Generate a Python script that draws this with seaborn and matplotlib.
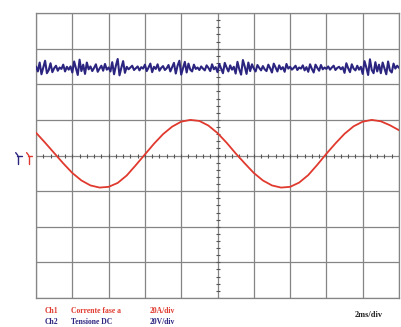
import numpy as np
import pandas as pd
import matplotlib
matplotlib.use("Agg")
import matplotlib.pyplot as plt
import seaborn as sns
from matplotlib.lines import Line2D

# Ch1 - corrente fase a (div), sampled every 0.25 div
ch1_x = [i * 0.25 for i in range(41)]
ch1_y = [0.64, 0.36, 0.07, -0.22, -0.49, -0.70, -0.84, -0.90, -0.88, -0.77,
         -0.56, -0.27, 0.03, 0.33, 0.60, 0.81, 0.95, 1.00, 0.97, 0.84,
         0.63, 0.36, 0.06, -0.22, -0.49, -0.70, -0.84, -0.90, -0.88, -0.76,
         -0.55, -0.26, 0.05, 0.34, 0.61, 0.82, 0.95, 1.00, 0.96, 0.85, 0.71]

# Ch2 - tensione DC (div), sampled every 0.05 div
ch2_y = [
    2.50, 2.36, 2.61, 2.28, 2.47, 2.66, 2.31, 2.40, 2.59, 2.34,
    2.45, 2.52, 2.38, 2.47, 2.43, 2.55, 2.36, 2.49, 2.41, 2.50,
    2.33, 2.64, 2.45, 2.26, 2.69, 2.37, 2.55, 2.29, 2.61, 2.42,
    2.50, 2.37, 2.46, 2.56, 2.35, 2.44, 2.52, 2.38, 2.57, 2.41,
    2.47, 2.36, 2.62, 2.28, 2.52, 2.71, 2.25, 2.46, 2.65, 2.32,
    2.49, 2.42, 2.47, 2.52, 2.40, 2.45, 2.50, 2.39, 2.48, 2.44,
    2.55, 2.37, 2.47, 2.58, 2.34, 2.49, 2.43, 2.56, 2.38, 2.46,
    2.51, 2.40, 2.45, 2.54, 2.36, 2.48, 2.60, 2.30, 2.52, 2.66,
    2.27, 2.45, 2.63, 2.33, 2.58, 2.41, 2.36, 2.55, 2.43, 2.47,
    2.40, 2.50, 2.44, 2.39, 2.53, 2.46, 2.37, 2.56, 2.42, 2.48,
    2.34, 2.57, 2.44, 2.31, 2.60, 2.47, 2.36, 2.53, 2.41, 2.49,
    2.30, 2.63, 2.42, 2.27, 2.68, 2.50, 2.29, 2.61, 2.37, 2.56,
    2.44, 2.36, 2.54, 2.46, 2.39, 2.51, 2.42, 2.37, 2.55, 2.45,
    2.33, 2.58, 2.47, 2.36, 2.53, 2.42, 2.48, 2.35, 2.57, 2.44,
    2.49, 2.41, 2.46, 2.52, 2.40, 2.47, 2.44, 2.53, 2.39, 2.48,
    2.35, 2.56, 2.43, 2.33, 2.55, 2.46, 2.38, 2.54, 2.42, 2.47,
    2.43, 2.50, 2.41, 2.47, 2.52, 2.40, 2.46, 2.49, 2.42, 2.48,
    2.32, 2.59, 2.45, 2.34, 2.56, 2.44, 2.39, 2.52, 2.41, 2.49,
    2.29, 2.65, 2.47, 2.26, 2.70, 2.40, 2.31, 2.62, 2.36, 2.55,
    2.31, 2.61, 2.45, 2.28, 2.64, 2.39, 2.33, 2.58, 2.44, 2.52,
    2.46]
ch2_x = [i * 0.05 for i in range(len(ch2_y))]

red = "#e0392e"
blue = "#2b2580"
grid_col = "#858585"

sns.set_style("white")
plt.rcParams['font.family'] = ['Liberation Serif', 'DejaVu Serif']

fig = plt.figure(figsize=(4.02, 3.27), dpi=100)
ax = fig.add_axes([0.0896, 0.0887, 0.9029, 0.8715])

# grid
for gx in range(11):
    ax.axvline(gx, color=grid_col, lw=0.9, zorder=1)
for gy in range(-4, 5):
    ax.axhline(gy, color=grid_col, lw=0.9, zorder=1)

# minor ticks on centre lines
mt = np.arange(0, 10.01, 0.2)
ax.plot(mt, np.zeros_like(mt), ls="none", marker="|", ms=2.2, mew=0.8, color="#555555", zorder=2)
mt2 = np.arange(-4, 4.01, 0.2)
ax.plot(np.full_like(mt2, 5.0), mt2, ls="none", marker="_", ms=2.2, mew=0.8, color="#555555", zorder=2)

df2 = pd.DataFrame({"t": ch2_x, "v": ch2_y})
df1 = pd.DataFrame({"t": ch1_x, "v": ch1_y})
sns.lineplot(data=df2, x="t", y="v", ax=ax, color=blue, lw=1.5, sort=False, zorder=3)
sns.lineplot(data=df1, x="t", y="v", ax=ax, color=red, lw=1.3, sort=False, zorder=4)

ax.set_xlim(0, 10)
ax.set_ylim(-4, 4)
ax.set_xticks([])
ax.set_yticks([])
ax.set_xlabel("")
ax.set_ylabel("")
for s in ax.spines.values():
    s.set_color(grid_col)
    s.set_linewidth(0.9)

# channel ground markers on the left
for x0, c in [(-0.52, blue), (-0.22, red)]:
    ax.add_line(Line2D([x0, x0 + 0.12], [0, 0], color=c, lw=1.0, clip_on=False))
    ax.add_line(Line2D([x0 + 0.02, x0 + 0.02], [0, -0.25], color=c, lw=1.0, clip_on=False))
    ax.add_line(Line2D([x0 + 0.02, x0 - 0.04], [0, 0.08], color=c, lw=1.0, clip_on=False))

fs = 5.5
fig.text(0.112, 0.049, "Ch1", color=red, fontsize=fs, fontweight="bold", va="center")
fig.text(0.177, 0.049, "Corrente fase a", color=red, fontsize=fs, fontweight="bold", va="center")
fig.text(0.373, 0.049, "20A/div", color=red, fontsize=fs, fontweight="bold", va="center")
fig.text(0.112, 0.015, "Ch2", color=blue, fontsize=fs, fontweight="bold", va="center")
fig.text(0.177, 0.015, "Tensione DC", color=blue, fontsize=fs, fontweight="bold", va="center")
fig.text(0.373, 0.015, "20V/div", color=blue, fontsize=fs, fontweight="bold", va="center")
fig.text(0.883, 0.037, "2ms/div", color="#222222", fontsize=6, fontweight="bold", va="center")

fig.savefig("out.png", dpi=100)
